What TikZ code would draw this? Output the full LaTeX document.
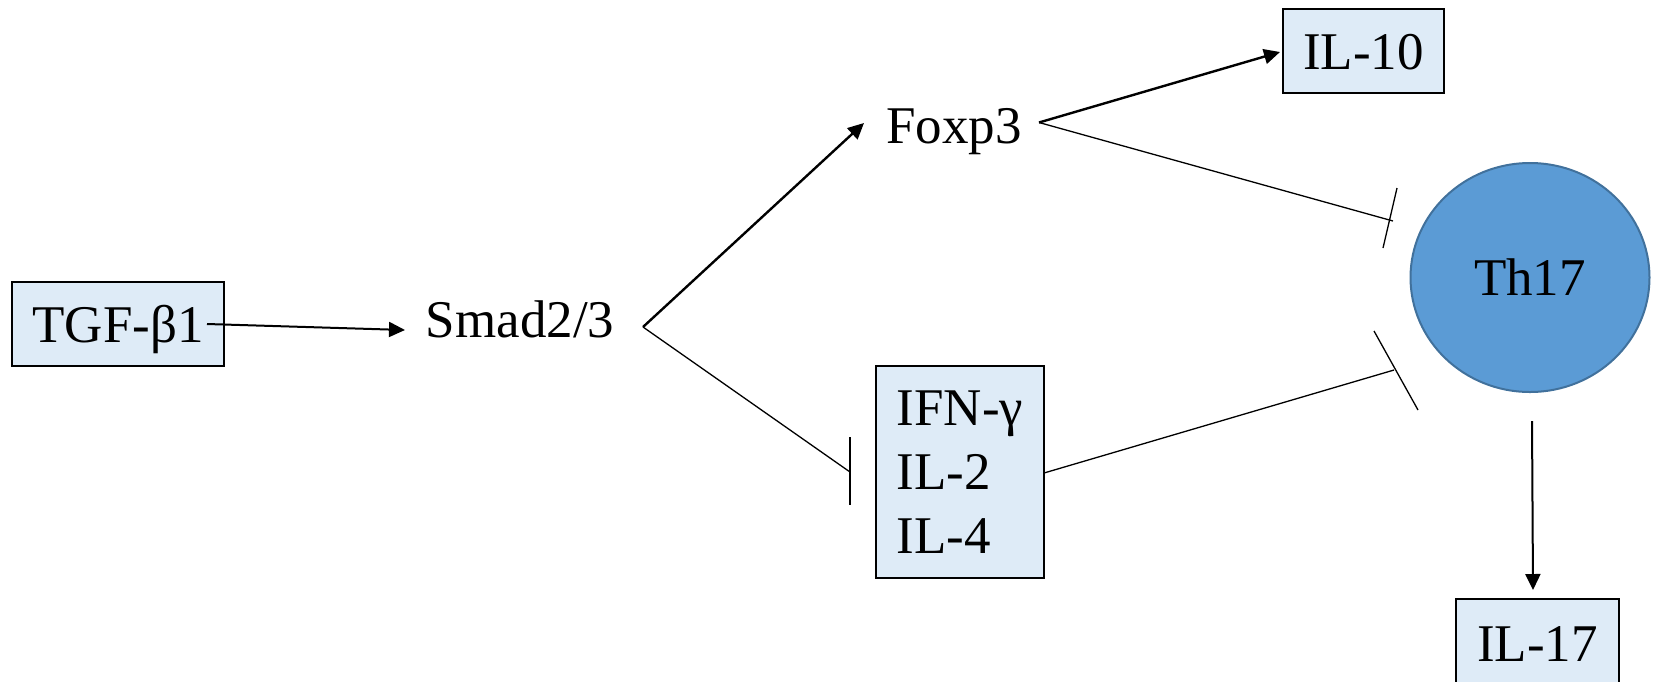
\documentclass[tikz,border=0pt]{standalone}
\usepackage{fontspec}
\setmainfont{Liberation Serif}
\usetikzlibrary{arrows.meta,shapes.geometric,calc}
\definecolor{boxfill}{HTML}{DEEBF7}
\definecolor{cellfill}{HTML}{5B9BD5}
\definecolor{celldraw}{HTML}{41719C}
\begin{document}
\begin{tikzpicture}[x=1pt,y=-1pt,
  lbl/.style={font=\fontsize{53}{64}\selectfont, inner sep=0pt, text height=46pt, text depth=10pt},
  cbox/.style={lbl, draw=black, line width=2pt, fill=boxfill},
  act/.style={line width=2.4pt, -{Triangle[length=16pt,width=15pt]}},
  inh/.style={line width=1.3pt},
  ]
\useasboundingbox (0,0) rectangle (1653,681);
% nodes
\node[cbox, minimum width=212pt, minimum height=84pt] (tgf) at (118,324) {TGF-β1};
\node[lbl] (smad) at (520,319) {Smad2/3};
\node[lbl] (fox) at (954,125.5) {Foxp3};
\node[cbox, minimum width=161pt, minimum height=84pt] (il10) at (1363.5,51) {IL-10};
\node[draw=black, line width=2pt, fill=boxfill, inner sep=0pt, minimum width=168pt, minimum height=212pt,
      align=left, font=\fontsize{53}{64}\selectfont] (ifn) at (960,472) {IFN-γ\\IL-2\\IL-4};
\node[ellipse, draw=celldraw, line width=2pt, fill=cellfill, minimum width=239pt, minimum height=229pt,
      lbl] (th17) at (1530,277.5) {Th17};
\node[cbox, minimum width=163pt, minimum height=88pt] (il17) at (1537.5,643) {IL-17};
% activating connectors
\draw[act, line width=2pt] ($(tgf)+(89,0)$) -- ($(smad)+(-115,11)$);
\draw[act] ($(smad)+(123,8)$) -- ($(fox)+(-90,-2.5)$);
\draw[act] ($(fox)+(85,-3)$) -- ($(il10)+(-83.5,1)$);
\draw[act, line width=2pt] ($(th17)+(2,143.5)$) -- ($(il17)+(-4.5,-53)$);
% inhibiting connectors
\draw[inh] ($(smad)+(123,8)$) -- ($(ifn)+(-110,0)$);
\draw[inh] ($(ifn)+(-110,-35)$) -- ($(ifn)+(-110,33)$);
\draw[inh] ($(fox)+(85,-3)$) -- ($(th17)+(-137,-56.5)$);
\draw[inh] ($(th17)+(-133,-89.5)$) -- ($(th17)+(-147,-29.5)$);
\draw[inh] ($(ifn)+(84,1)$) -- ($(th17)+(-136,92.5)$);
\draw[inh] ($(th17)+(-156,53.5)$) -- ($(th17)+(-112,132.5)$);
\end{tikzpicture}
\end{document}
